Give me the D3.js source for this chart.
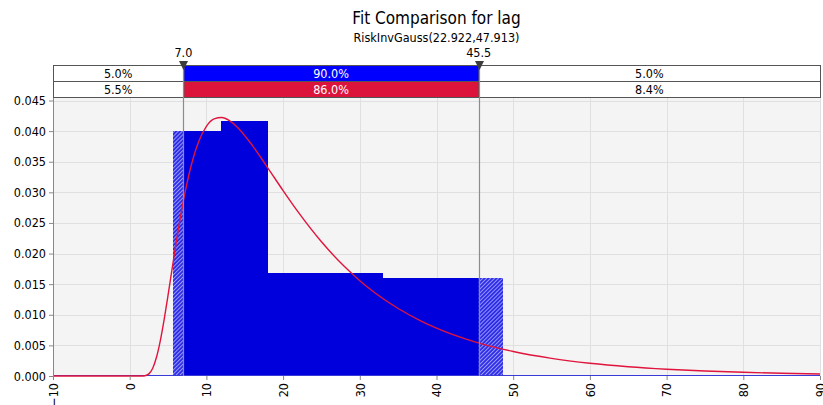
<!DOCTYPE html>
<html>
<head>
<meta charset="utf-8">
<script src="https://cdn.jsdelivr.net/npm/d3@7/dist/d3.min.js"></script>
<style>
  html, body { margin: 0; padding: 0; background: #ffffff; }
  svg { display: block; font-family: "DejaVu Sans Condensed", "DejaVu Sans", sans-serif; font-stretch: condensed; }
</style>
</head>
<body>
<svg id="chart" width="823" height="405"></svg>
<script>
// Histogram bins of the input data (density scale)
const binLo      = [5.7, 11.86, 18.0, 33.0];
const binHi      = [11.86, 18.0, 33.0, 48.7];
const binDensity = [0.0400, 0.0417, 0.0168, 0.0160];

// Fitted RiskInvGauss(22.922,47.913) density curve
const fitX = [-10, 0, 1, 1.5, 2, 2.5, 3, 3.5, 4, 4.5, 5, 5.5, 6, 7, 8, 9, 10, 11, 12, 13, 14, 16, 18, 20, 22, 25, 28, 30, 32, 35, 38, 40, 45, 50, 55, 60, 65, 70, 75, 80, 85, 90];
const fitY = [0, 0, 0, 0.000001, 0.000045, 0.000347, 0.001277, 0.003097, 0.005826, 0.009291, 0.013199, 0.017291, 0.021324, 0.028599, 0.034303, 0.038313, 0.040782, 0.041994, 0.042221, 0.041712, 0.040678, 0.037640, 0.034008, 0.030277, 0.026713, 0.021918, 0.017871, 0.015573, 0.013565, 0.011028, 0.008974, 0.007828, 0.005582, 0.004002, 0.002885, 0.002090, 0.001522, 0.001113, 0.000817, 0.000603, 0.000446, 0.000331];

// Delimiters and the probabilities between them
const delimiters = [7.0, 45.5];
const delimiterLabels = ["7.0", "45.5"];
const inputPct = ["5.0%", "90.0%", "5.0%"];
const fitPct   = ["5.5%", "86.0%", "8.4%"];

// Axis ticks
const xTicks = [-10, 0, 10, 20, 30, 40, 50, 60, 70, 80, 90];
const yTicks = [0, 0.005, 0.010, 0.015, 0.020, 0.025, 0.030, 0.035, 0.040, 0.045];

const titleText = "Fit Comparison for lag";
const subtitleText = "RiskInvGauss(22.922,47.913)";

const svg = d3.select("#chart");
const plotL = 53, plotR = 820, plotT = 98, plotB = 376;

const x = d3.scaleLinear().domain([-10, 90]).range([plotL, plotR]);
const y = d3.scaleLinear().domain([0, 0.045]).range([plotB, 100.5]);

// hatch pattern for bins outside the delimiters
const defs = svg.append("defs");
const pat = defs.append("pattern")
  .attr("id", "hatch").attr("patternUnits", "userSpaceOnUse")
  .attr("width", 2.8).attr("height", 2.8)
  .attr("patternTransform", "rotate(45)");
pat.append("rect").attr("width", 2.8).attr("height", 2.8).attr("fill", "#2a2ae6");
pat.append("rect").attr("width", 1).attr("height", 2.8).attr("fill", "#9a9aff");

defs.append("clipPath").attr("id", "mid")
  .append("rect")
  .attr("x", x(delimiters[0])).attr("y", plotT)
  .attr("width", x(delimiters[1]) - x(delimiters[0]))
  .attr("height", plotB - plotT);

defs.append("clipPath").attr("id", "plot")
  .append("rect")
  .attr("x", plotL).attr("y", plotT - 2)
  .attr("width", plotR - plotL + 1).attr("height", plotB - plotT + 3);

// title
svg.append("text").attr("x", (plotL + plotR) / 2).attr("y", 24)
  .attr("text-anchor", "middle").attr("font-size", 17).attr("fill", "#000")
  .text(titleText);
svg.append("text").attr("x", (plotL + plotR) / 2).attr("y", 42)
  .attr("text-anchor", "middle").attr("font-size", 12.5).attr("fill", "#000")
  .text(subtitleText);

// plot background
svg.append("rect").attr("x", plotL).attr("y", plotT)
  .attr("width", plotR - plotL).attr("height", plotB - plotT)
  .attr("fill", "#f4f4f4");

// grid
const grid = svg.append("g").attr("stroke", "#e0e0e0").attr("stroke-width", 1);
grid.selectAll("line.v").data(xTicks.slice(1)).join("line")
  .attr("x1", d => Math.round(x(d)) + 0.5).attr("x2", d => Math.round(x(d)) + 0.5)
  .attr("y1", plotT).attr("y2", plotB);
grid.selectAll("line.h").data(yTicks.slice(1)).join("line")
  .attr("x1", plotL).attr("x2", plotR)
  .attr("y1", d => Math.round(y(d)) + 0.5).attr("y2", d => Math.round(y(d)) + 0.5);

// histogram
const bins = binLo.map((lo, i) => ({ lo, hi: binHi[i], d: binDensity[i] }));
const barG = svg.append("g").attr("shape-rendering", "crispEdges");
barG.selectAll("rect.h").data(bins).join("rect")
  .attr("x", d => x(d.lo)).attr("width", d => x(d.hi) - x(d.lo))
  .attr("y", d => y(d.d)).attr("height", d => y(0) - y(d.d))
  .attr("fill", "url(#hatch)");
barG.append("g").attr("clip-path", "url(#mid)")
  .selectAll("rect").data(bins).join("rect")
  .attr("x", d => x(d.lo)).attr("width", d => x(d.hi) - x(d.lo) + 0.5)
  .attr("y", d => y(d.d)).attr("height", d => y(0) - y(d.d))
  .attr("fill", "#0000dc");

// zero-density baseline of the histogram
svg.append("line")
  .attr("x1", x(-10)).attr("x2", x(90))
  .attr("y1", y(0) - 0.5).attr("y2", y(0) - 0.5)
  .attr("stroke", "#3a3ad8").attr("stroke-width", 1);

// fitted density
const line = d3.line().x(d => x(d[0])).y(d => y(d[1])).curve(d3.curveMonotoneX);
svg.append("path")
  .datum(fitX.map((v, i) => [v, fitY[i]]))
  .attr("clip-path", "url(#plot)")
  .attr("d", line)
  .attr("fill", "none").attr("stroke", "#e0143c").attr("stroke-width", 1.4);

// y axis
const yAxis = svg.append("g").attr("transform", `translate(${plotL},0)`)
  .call(d3.axisLeft(y).tickValues(yTicks).tickFormat(d3.format(".3f")).tickSize(4).tickPadding(3));
yAxis.select(".domain").attr("stroke", "#888").attr("d", `M0.5,${plotT}V${plotB}`);
yAxis.selectAll(".tick line").attr("stroke", "#888");
yAxis.selectAll(".tick text").attr("font-size", 12.5).attr("fill", "#000")
  .attr("font-family", "DejaVu Sans Condensed, DejaVu Sans, sans-serif");

// x axis
const xAxis = svg.append("g").attr("transform", `translate(0,${plotB})`)
  .call(d3.axisBottom(x).tickValues(xTicks).tickFormat(d3.format("d")).tickSize(4));
xAxis.select(".domain").remove();
xAxis.selectAll(".tick line").attr("stroke", "#888");
xAxis.selectAll(".tick text")
  .attr("font-size", 12.5).attr("fill", "#000")
  .attr("font-family", "DejaVu Sans Condensed, DejaVu Sans, sans-serif")
  .attr("transform", "rotate(-90)")
  .attr("text-anchor", "end").attr("x", -7).attr("y", 0).attr("dy", "0.35em");

// probability bands
const bandTop = 65, rowH = 16;
const cuts = [-10, ...delimiters, 90];
const rows = [
  { pct: inputPct, mid: "#0000ff" },
  { pct: fitPct, mid: "#dc143c" }
];
rows.forEach((r, ri) => {
  const g = svg.append("g");
  const yy = bandTop + ri * rowH;
  r.pct.forEach((p, ci) => {
    const x0 = x(cuts[ci]), x1 = x(cuts[ci + 1]);
    g.append("rect").attr("x", x0 + 0.5).attr("y", yy + 0.5)
      .attr("width", x1 - x0).attr("height", rowH)
      .attr("fill", ci === 1 ? r.mid : "#ffffff")
      .attr("stroke", "#555").attr("stroke-width", 1);
    g.append("text").attr("x", (x0 + x1) / 2).attr("y", yy + rowH / 2 + 1)
      .attr("dy", "0.35em").attr("text-anchor", "middle")
      .attr("font-size", 12.5).attr("fill", ci === 1 ? "#ffffff" : "#000")
      .text(p);
  });
});

// delimiter lines, markers and labels
const dl = svg.append("g");
dl.selectAll("line").data(delimiters).join("line")
  .attr("x1", d => Math.round(x(d)) + 0.5).attr("x2", d => Math.round(x(d)) + 0.5)
  .attr("y1", bandTop).attr("y2", plotB)
  .attr("stroke", "#8c8c8c").attr("stroke-width", 1.2);
dl.selectAll("path").data(delimiters).join("path")
  .attr("d", d => { const cx = Math.round(x(d)) + 0.5; return `M${cx - 4.5},61L${cx + 4.5},61L${cx},70Z`; })
  .attr("fill", "#3c3c3c");
dl.selectAll("text").data(delimiters).join("text")
  .attr("x", d => x(d)).attr("y", 57).attr("text-anchor", "middle")
  .attr("font-size", 12.5).attr("fill", "#000")
  .text((d, i) => delimiterLabels[i]);
</script>
</body>
</html>
